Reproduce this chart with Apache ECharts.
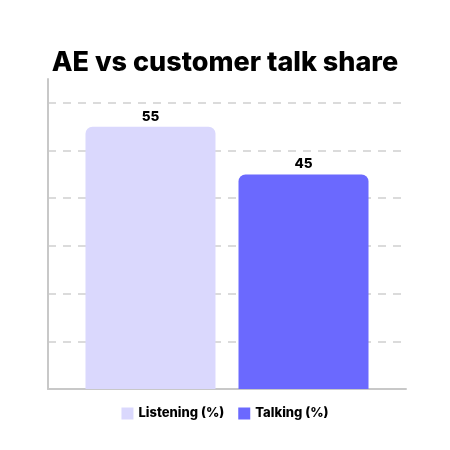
<!DOCTYPE html>
<html>
<head>
<meta charset="utf-8">
<script src="https://cdn.jsdelivr.net/npm/echarts@6/dist/echarts.min.js"></script>
<style>
html,body{margin:0;padding:0;background:#fff;}
#c{width:450px;height:450px;}
</style>
</head>
<body>
<div id="c"></div>
<script>
const categories = ['AE vs customer talk share'];
const seriesNames = ['Listening (%)', 'Talking (%)'];
const listeningValues = [55];
const talkingValues = [45];
const seriesColors = ['#DAD8FD', '#6B69FE'];

const chart = echarts.init(document.getElementById('c'), null, {renderer: 'canvas'});
const font = 'Inter, "Noto Sans", sans-serif';
const valueSets = [listeningValues, talkingValues];
chart.setOption({
  animation: false,
  title: {
    text: 'AE vs customer talk share',
    left: 'center',
    top: 44,
    textStyle: {fontFamily: font, fontSize: 27, fontWeight: 800, color: '#000'}
  },
  legend: {
    bottom: 25,
    left: 'center',
    itemWidth: 12,
    itemHeight: 12,
    itemGap: 14,
    icon: 'rect',
    textStyle: {fontFamily: font, fontSize: 13, fontWeight: 800, color: '#000'},
    data: seriesNames
  },
  grid: {left: 48, right: 44, top: 79, bottom: 61, containLabel: false},
  xAxis: {
    type: 'category',
    data: categories,
    axisLine: {show: true, lineStyle: {color: '#c8c8c8', width: 2}},
    axisTick: {show: false},
    axisLabel: {show: false}
  },
  yAxis: {
    type: 'value',
    min: 0,
    max: 65,
    interval: 10,
    axisLine: {show: true, lineStyle: {color: '#c8c8c8', width: 2}},
    axisTick: {show: false},
    axisLabel: {show: false},
    splitLine: {show: true, showMaxLine: false, showMinLine: false, lineStyle: {color: '#cfcfcf', type: [8, 7], width: 1.5}}
  },
  series: seriesNames.map((n, i) => ({
    name: n,
    type: 'bar',
    data: valueSets[i],
    barWidth: 130,
    barGap: '17.7%',
    itemStyle: {color: seriesColors[i], borderRadius: [7, 7, 0, 0]},
    label: {show: true, position: 'top', distance: 3, fontFamily: font, fontSize: 13.5, fontWeight: 800, color: '#000'}
  }))
});
</script>
</body>
</html>
